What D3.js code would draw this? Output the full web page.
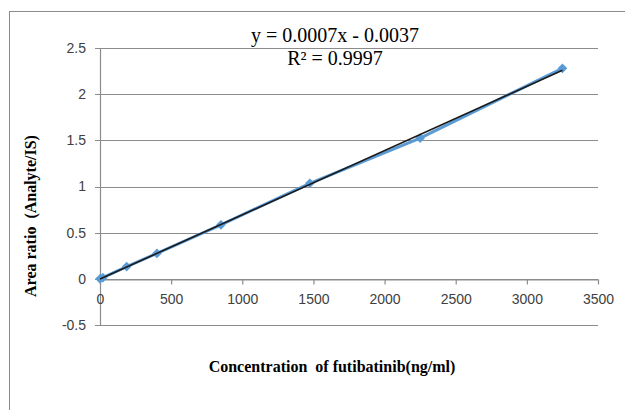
<!DOCTYPE html>
<html>
<head>
<meta charset="utf-8">
<script src="https://cdn.jsdelivr.net/npm/d3@7"></script>
<style>
  body { margin: 0; background: #fff; }
  svg { display: block; }
</style>
</head>
<body>
<svg id="plot"></svg>
<script>
// Calibration data
const concentrations = [0, 20, 187.5, 400, 850, 1475, 2250, 3250];
const areaRatios = [0, 0.012, 0.133, 0.275, 0.585, 1.035, 1.525, 2.28];
const xTicks = [0, 500, 1000, 1500, 2000, 2500, 3000, 3500];
const yTicks = [-0.5, 0, 0.5, 1, 1.5, 2, 2.5];

let width = 625;
let height = 410;
let plot = { left: 100, right: 598, top: 48, bottom: 325 };

let svg = d3.select('#plot')
    .attr('width', width)
    .attr('height', height);

// outer chart border (only top and left visible)
svg.append('rect')
    .attr('x', 9.5)
    .attr('y', 11.5)
    .attr('width', 640)
    .attr('height', 420)
    .attr('fill', 'none')
    .attr('stroke', '#8c8c8c')
    .attr('stroke-width', 1);

let xScale = d3.scaleLinear()
    .domain([0, 3500])
    .range([plot.left, plot.right]);

let yScale = d3.scaleLinear()
    .domain([-0.5, 2.5])
    .range([plot.bottom, plot.top]);

// horizontal gridlines, extending left as ticks
svg.append('g')
    .selectAll('line')
    .data(yTicks)
    .enter()
    .append('line')
    .attr('x1', plot.left - 5)
    .attr('x2', plot.right)
    .attr('y1', d => Math.round(yScale(d)) + 0.5)
    .attr('y2', d => Math.round(yScale(d)) + 0.5)
    .attr('stroke', '#8c8c8c')
    .attr('stroke-width', 1.2);

// y axis line
svg.append('line')
    .attr('x1', plot.left + 0.5)
    .attr('x2', plot.left + 0.5)
    .attr('y1', plot.top)
    .attr('y2', plot.bottom)
    .attr('stroke', '#8c8c8c')
    .attr('stroke-width', 1.2);

// x axis at y = 0
let xAxis = svg.append('g')
    .attr('transform', `translate(0, ${Math.round(yScale(0)) + 0.5})`)
    .call(d3.axisBottom(xScale).tickValues(xTicks).tickFormat(d => d)
        .tickSize(5).tickSizeOuter(0).tickPadding(10));
xAxis.select('.domain').attr('stroke', '#8c8c8c').attr('stroke-width', 1.2);
xAxis.selectAll('.tick line').attr('stroke', '#8c8c8c').attr('stroke-width', 1.2);
xAxis.selectAll('text')
    .style('font-family', 'Liberation Sans, Arial, sans-serif')
    .style('font-size', '14px')
    .attr('fill', '#404040');

// y tick labels
svg.append('g')
    .selectAll('text')
    .data(yTicks)
    .enter()
    .append('text')
    .attr('x', 86)
    .attr('y', d => yScale(d))
    .attr('dy', '0.35em')
    .attr('text-anchor', 'end')
    .style('font-family', 'Liberation Sans, Arial, sans-serif')
    .style('font-size', '14px')
    .attr('fill', '#404040')
    .text(d => d);

// data series
let line = d3.line()
    .x((d, i) => xScale(concentrations[i]))
    .y(d => yScale(d));

svg.append('path')
    .datum(areaRatios)
    .attr('d', line)
    .attr('fill', 'none')
    .attr('stroke', '#5b9bd5')
    .attr('stroke-width', 3);

svg.selectAll('.dot')
    .data(areaRatios)
    .enter()
    .append('path')
    .attr('class', 'dot')
    .attr('d', d3.symbol().type(d3.symbolDiamond2).size(60))
    .attr('transform', (d, i) => `translate(${xScale(concentrations[i])}, ${yScale(d)})`)
    .attr('fill', '#5b9bd5');

// linear trendline (least squares over the points)
let xMean = d3.mean(concentrations);
let yMean = d3.mean(areaRatios);
let sxy = d3.sum(concentrations, (x, i) => (x - xMean) * (areaRatios[i] - yMean));
let sxx = d3.sum(concentrations, x => (x - xMean) * (x - xMean));
let slope = sxy / sxx;
let intercept = yMean - slope * xMean;
let xMin = d3.min(concentrations);
let xMax = d3.max(concentrations);
svg.append('line')
    .attr('x1', xScale(xMin))
    .attr('y1', yScale(slope * xMin + intercept))
    .attr('x2', xScale(xMax))
    .attr('y2', yScale(slope * xMax + intercept))
    .attr('stroke', '#1a1a1a')
    .attr('stroke-width', 1.6);

// equation label
let eq = svg.append('text')
    .attr('text-anchor', 'middle')
    .style('font-family', 'Liberation Serif, Times New Roman, serif')
    .style('font-size', '20px')
    .attr('fill', '#000');
eq.append('tspan').attr('x', 335).attr('y', 42).text('y = 0.0007x - 0.0037');
eq.append('tspan').attr('x', 335).attr('y', 65).text('R² = 0.9997');

// axis titles
svg.append('text')
    .attr('x', 332)
    .attr('y', 372)
    .attr('text-anchor', 'middle')
    .style('font-family', 'Liberation Serif, Times New Roman, serif')
    .style('font-weight', 'bold')
    .style('font-size', '16px')
    .style('white-space', 'pre')
    .text('Concentration  of futibatinib(ng/ml)');

svg.append('text')
    .attr('transform', 'rotate(-90)')
    .attr('x', -216)
    .attr('y', 36)
    .attr('text-anchor', 'middle')
    .style('font-family', 'Liberation Serif, Times New Roman, serif')
    .style('font-weight', 'bold')
    .style('font-size', '16px')
    .style('white-space', 'pre')
    .text('Area ratio  (Analyte/IS)');
</script>
</body>
</html>
